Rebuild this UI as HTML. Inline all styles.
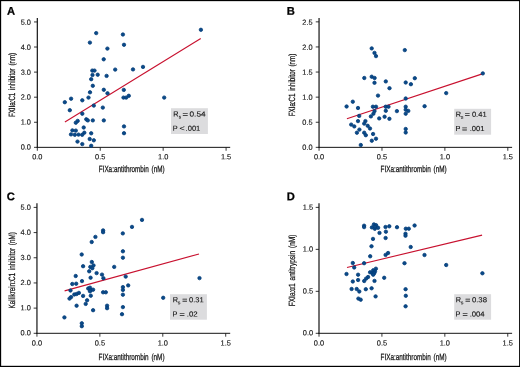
<!DOCTYPE html>
<html lang="en"><head><meta charset="utf-8"><title>Figure</title>
<style>
html,body{margin:0;padding:0;background:#fff;}
body{width:520px;height:367px;overflow:hidden;}
svg{display:block;}
text{font-family:"Liberation Sans",Arial,Helvetica,sans-serif;fill:#101010;}
.tick{font-size:7.4px;stroke:#151515;stroke-width:0.12px;}
.lab{font-size:9px;stroke:#151515;stroke-width:0.25px;word-spacing:1.5px;}
.leg{font-size:7.3px;stroke:#151515;stroke-width:0.1px;}
.sub{font-size:4.8px;}
.eq{font-size:7.8px;stroke-width:0.2px;}
.pl{font-size:11.2px;font-weight:bold;fill:#000;stroke:#000;stroke-width:0.25px;}
.ax{stroke:#141414;stroke-width:1.0;fill:none;}
.ay{stroke:#141414;stroke-width:1.2;fill:none;}
.tk{stroke:#141414;stroke-width:0.85;fill:none;}
.fit{stroke:#c8112f;stroke-width:1.12;fill:none;stroke-linecap:butt;}
.pt{fill:#0a4a89;stroke:#043c78;stroke-width:0.8;}
.box{fill:#dcdcde;}
</style></head><body>
<svg width="520" height="367" viewBox="0 0 520 367">
<rect x="0" y="0" width="520" height="367" fill="#fff"/>
<rect x="0" y="0" width="520" height="1.15" fill="#000"/>
<rect x="0" y="0" width="1.15" height="367" fill="#000"/>
<rect x="0" y="365.8" width="520" height="1.2" fill="#000"/>
<rect x="519.1" y="0" width="0.9" height="367" fill="#000"/>
<g>
<text class="pl" x="7.00" y="14.70" transform="rotate(0.03 7.00 14.70)">A</text>
<path class="ay" d="M37.32 18.00 V147.85"/>
<path class="ax" d="M36.72 147.35 H230.20"/>
<text class="tick" text-anchor="end" x="30.92" y="149.55" transform="rotate(0.03 30.92 149.55)">0.0</text>
<text class="tick" text-anchor="end" x="30.92" y="124.59" transform="rotate(0.03 30.92 124.59)">1.0</text>
<text class="tick" text-anchor="end" x="30.92" y="99.63" transform="rotate(0.03 30.92 99.63)">2.0</text>
<text class="tick" text-anchor="end" x="30.92" y="74.67" transform="rotate(0.03 30.92 74.67)">3.0</text>
<text class="tick" text-anchor="end" x="30.92" y="49.71" transform="rotate(0.03 30.92 49.71)">4.0</text>
<text class="tick" text-anchor="end" x="30.92" y="24.75" transform="rotate(0.03 30.92 24.75)">5.0</text>
<text class="tick" text-anchor="middle" x="37.32" y="159.15" transform="rotate(0.03 37.32 159.15)">0.0</text>
<text class="tick" text-anchor="middle" x="100.24" y="159.15" transform="rotate(0.03 100.24 159.15)">0.5</text>
<text class="tick" text-anchor="middle" x="163.16" y="159.15" transform="rotate(0.03 163.16 159.15)">1.0</text>
<text class="tick" text-anchor="middle" x="226.08" y="159.15" transform="rotate(0.03 226.08 159.15)">1.5</text>
<path class="tk" d="M34.02 147.35 H37.32M34.02 122.27 H37.32M34.02 97.19 H37.32M34.02 72.11 H37.32M34.02 47.03 H37.32M34.02 21.95 H37.32M37.32 147.35 V150.75M100.24 147.35 V150.75M163.16 147.35 V150.75M226.08 147.35 V150.75"/>
<text class="lab" x="98.75" y="171.90" transform="rotate(0.03 98.75 171.90)" textLength="65.9" lengthAdjust="spacingAndGlyphs">FIXa:antithrombin (nM)</text>
<text class="lab" transform="translate(15.10 117.10) rotate(-89.97)" textLength="64.2" lengthAdjust="spacingAndGlyphs">FXIIa:C1 inhibitor (nm)</text>
<path class="fit" d="M64.90 121.90 L200.75 38.55"/>
<circle class="pt" cx="96.2" cy="33.1" r="1.70"/>
<circle class="pt" cx="122.9" cy="34.5" r="1.70"/>
<circle class="pt" cx="89.9" cy="42.6" r="1.70"/>
<circle class="pt" cx="124.0" cy="44.8" r="1.70"/>
<circle class="pt" cx="107.4" cy="48.6" r="1.70"/>
<circle class="pt" cx="103.7" cy="59.3" r="1.70"/>
<circle class="pt" cx="115.2" cy="69.6" r="1.70"/>
<circle class="pt" cx="92.3" cy="70.6" r="1.70"/>
<circle class="pt" cx="94.5" cy="70.6" r="1.70"/>
<circle class="pt" cx="92.5" cy="75.0" r="1.70"/>
<circle class="pt" cx="97.7" cy="74.7" r="1.70"/>
<circle class="pt" cx="106.6" cy="75.9" r="1.70"/>
<circle class="pt" cx="91.2" cy="79.2" r="1.70"/>
<circle class="pt" cx="92.8" cy="85.8" r="1.70"/>
<circle class="pt" cx="103.8" cy="89.8" r="1.70"/>
<circle class="pt" cx="123.8" cy="89.9" r="1.70"/>
<circle class="pt" cx="90.0" cy="92.3" r="1.70"/>
<circle class="pt" cx="107.5" cy="93.3" r="1.70"/>
<circle class="pt" cx="88.5" cy="97.6" r="1.70"/>
<circle class="pt" cx="71.1" cy="98.7" r="1.70"/>
<circle class="pt" cx="82.3" cy="100.3" r="1.70"/>
<circle class="pt" cx="64.8" cy="102.2" r="1.70"/>
<circle class="pt" cx="93.8" cy="105.6" r="1.70"/>
<circle class="pt" cx="102.8" cy="107.6" r="1.70"/>
<circle class="pt" cx="69.8" cy="110.2" r="1.70"/>
<circle class="pt" cx="82.3" cy="113.7" r="1.70"/>
<circle class="pt" cx="123.5" cy="97.6" r="1.70"/>
<circle class="pt" cx="126.2" cy="97.6" r="1.70"/>
<circle class="pt" cx="128.8" cy="95.8" r="1.70"/>
<circle class="pt" cx="133.0" cy="69.4" r="1.70"/>
<circle class="pt" cx="143.0" cy="66.9" r="1.70"/>
<circle class="pt" cx="200.9" cy="29.8" r="1.70"/>
<circle class="pt" cx="164.2" cy="97.6" r="1.70"/>
<circle class="pt" cx="86.3" cy="119.3" r="1.70"/>
<circle class="pt" cx="87.8" cy="120.4" r="1.70"/>
<circle class="pt" cx="92.8" cy="120.4" r="1.70"/>
<circle class="pt" cx="103.8" cy="120.4" r="1.70"/>
<circle class="pt" cx="77.7" cy="120.9" r="1.70"/>
<circle class="pt" cx="75.8" cy="122.7" r="1.70"/>
<circle class="pt" cx="124.0" cy="126.4" r="1.70"/>
<circle class="pt" cx="83.7" cy="127.5" r="1.70"/>
<circle class="pt" cx="124.0" cy="133.2" r="1.70"/>
<circle class="pt" cx="72.4" cy="130.4" r="1.70"/>
<circle class="pt" cx="75.8" cy="130.6" r="1.70"/>
<circle class="pt" cx="84.3" cy="132.7" r="1.70"/>
<circle class="pt" cx="91.2" cy="133.3" r="1.70"/>
<circle class="pt" cx="71.0" cy="134.4" r="1.70"/>
<circle class="pt" cx="74.8" cy="134.8" r="1.70"/>
<circle class="pt" cx="78.5" cy="134.6" r="1.70"/>
<circle class="pt" cx="82.2" cy="134.8" r="1.70"/>
<circle class="pt" cx="89.7" cy="139.0" r="1.70"/>
<circle class="pt" cx="93.8" cy="140.3" r="1.70"/>
<circle class="pt" cx="77.5" cy="141.6" r="1.70"/>
<circle class="pt" cx="82.3" cy="144.1" r="1.70"/>
<circle class="pt" cx="91.2" cy="145.8" r="1.70"/>
<rect class="box" x="171.00" y="108.20" width="36.90" height="25.80"/>
<text class="leg" y="116.50" transform="rotate(0.03 173.15 116.50)"><tspan x="173.15">R</tspan><tspan class="sub" x="178.75" dy="2.10">s</tspan> <tspan class="eq" x="182.60" dy="-1.60" textLength="5.50" lengthAdjust="spacingAndGlyphs">=</tspan> <tspan x="189.55" dy="-0.50" textLength="16.00" lengthAdjust="spacingAndGlyphs">0.54</tspan></text>
<text class="leg" y="130.80" transform="rotate(0.03 172.75 130.80)"><tspan x="172.75">P</tspan> <tspan x="179.40" textLength="5.20" lengthAdjust="spacingAndGlyphs">&lt;</tspan> <tspan x="185.60" textLength="14.70" lengthAdjust="spacingAndGlyphs">.001</tspan></text>
</g>
<g>
<text class="pl" x="286.70" y="14.70" transform="rotate(0.03 286.70 14.70)">B</text>
<path class="ay" d="M319.05 18.00 V147.85"/>
<path class="ax" d="M318.45 147.35 H512.10"/>
<text class="tick" text-anchor="end" x="312.65" y="149.75" transform="rotate(0.03 312.65 149.75)">0.0</text>
<text class="tick" text-anchor="end" x="312.65" y="124.73" transform="rotate(0.03 312.65 124.73)">0.5</text>
<text class="tick" text-anchor="end" x="312.65" y="99.71" transform="rotate(0.03 312.65 99.71)">1.0</text>
<text class="tick" text-anchor="end" x="312.65" y="74.69" transform="rotate(0.03 312.65 74.69)">1.5</text>
<text class="tick" text-anchor="end" x="312.65" y="49.67" transform="rotate(0.03 312.65 49.67)">2.0</text>
<text class="tick" text-anchor="end" x="312.65" y="24.65" transform="rotate(0.03 312.65 24.65)">2.5</text>
<text class="tick" text-anchor="middle" x="319.05" y="159.15" transform="rotate(0.03 319.05 159.15)">0.0</text>
<text class="tick" text-anchor="middle" x="381.97" y="159.15" transform="rotate(0.03 381.97 159.15)">0.5</text>
<text class="tick" text-anchor="middle" x="444.89" y="159.15" transform="rotate(0.03 444.89 159.15)">1.0</text>
<text class="tick" text-anchor="middle" x="507.81" y="159.15" transform="rotate(0.03 507.81 159.15)">1.5</text>
<path class="tk" d="M315.75 147.35 H319.05M315.75 122.25 H319.05M315.75 97.15 H319.05M315.75 72.05 H319.05M315.75 46.95 H319.05M315.75 21.85 H319.05M319.05 147.35 V150.75M381.97 147.35 V150.75M444.89 147.35 V150.75M507.81 147.35 V150.75"/>
<text class="lab" x="380.50" y="171.90" transform="rotate(0.03 380.50 171.90)" textLength="66.2" lengthAdjust="spacingAndGlyphs">FIXa:antithrombin (nM)</text>
<text class="lab" transform="translate(294.90 116.20) rotate(-89.97)" textLength="62.4" lengthAdjust="spacingAndGlyphs">FXIa:C1 inhibitor (nm)</text>
<path class="fit" d="M346.90 118.80 L482.30 73.90"/>
<circle class="pt" cx="371.7" cy="48.4" r="1.70"/>
<circle class="pt" cx="374.5" cy="52.9" r="1.70"/>
<circle class="pt" cx="376.0" cy="56.1" r="1.70"/>
<circle class="pt" cx="404.8" cy="50.1" r="1.70"/>
<circle class="pt" cx="364.3" cy="78.0" r="1.70"/>
<circle class="pt" cx="371.7" cy="76.7" r="1.70"/>
<circle class="pt" cx="374.6" cy="78.0" r="1.70"/>
<circle class="pt" cx="374.5" cy="82.8" r="1.70"/>
<circle class="pt" cx="385.8" cy="81.4" r="1.70"/>
<circle class="pt" cx="405.7" cy="82.5" r="1.70"/>
<circle class="pt" cx="410.9" cy="84.2" r="1.70"/>
<circle class="pt" cx="414.8" cy="78.2" r="1.70"/>
<circle class="pt" cx="389.5" cy="88.2" r="1.70"/>
<circle class="pt" cx="378.0" cy="95.6" r="1.70"/>
<circle class="pt" cx="405.7" cy="98.5" r="1.70"/>
<circle class="pt" cx="352.8" cy="101.7" r="1.70"/>
<circle class="pt" cx="346.6" cy="106.5" r="1.70"/>
<circle class="pt" cx="358.0" cy="108.0" r="1.70"/>
<circle class="pt" cx="372.9" cy="106.7" r="1.70"/>
<circle class="pt" cx="376.0" cy="106.7" r="1.70"/>
<circle class="pt" cx="385.7" cy="106.7" r="1.70"/>
<circle class="pt" cx="388.5" cy="106.7" r="1.70"/>
<circle class="pt" cx="405.7" cy="106.7" r="1.70"/>
<circle class="pt" cx="385.8" cy="110.8" r="1.70"/>
<circle class="pt" cx="396.9" cy="111.1" r="1.70"/>
<circle class="pt" cx="374.5" cy="111.1" r="1.70"/>
<circle class="pt" cx="373.4" cy="113.7" r="1.70"/>
<circle class="pt" cx="370.9" cy="116.4" r="1.70"/>
<circle class="pt" cx="359.2" cy="115.9" r="1.70"/>
<circle class="pt" cx="405.7" cy="109.7" r="1.70"/>
<circle class="pt" cx="408.3" cy="110.9" r="1.70"/>
<circle class="pt" cx="405.7" cy="113.7" r="1.70"/>
<circle class="pt" cx="379.2" cy="118.4" r="1.70"/>
<circle class="pt" cx="384.6" cy="116.7" r="1.70"/>
<circle class="pt" cx="389.4" cy="118.8" r="1.70"/>
<circle class="pt" cx="358.0" cy="121.1" r="1.70"/>
<circle class="pt" cx="365.4" cy="121.1" r="1.70"/>
<circle class="pt" cx="364.2" cy="123.6" r="1.70"/>
<circle class="pt" cx="351.2" cy="124.6" r="1.70"/>
<circle class="pt" cx="354.3" cy="126.4" r="1.70"/>
<circle class="pt" cx="367.7" cy="125.8" r="1.70"/>
<circle class="pt" cx="370.0" cy="128.5" r="1.70"/>
<circle class="pt" cx="359.4" cy="129.6" r="1.70"/>
<circle class="pt" cx="405.7" cy="129.0" r="1.70"/>
<circle class="pt" cx="405.7" cy="132.5" r="1.70"/>
<circle class="pt" cx="356.9" cy="132.7" r="1.70"/>
<circle class="pt" cx="364.2" cy="132.7" r="1.70"/>
<circle class="pt" cx="365.8" cy="135.2" r="1.70"/>
<circle class="pt" cx="373.1" cy="134.0" r="1.70"/>
<circle class="pt" cx="376.0" cy="138.7" r="1.70"/>
<circle class="pt" cx="371.8" cy="140.7" r="1.70"/>
<circle class="pt" cx="360.8" cy="145.0" r="1.70"/>
<circle class="pt" cx="446.2" cy="93.1" r="1.70"/>
<circle class="pt" cx="424.6" cy="106.2" r="1.70"/>
<circle class="pt" cx="482.8" cy="73.4" r="1.70"/>
<rect class="box" x="454.20" y="108.80" width="36.90" height="25.90"/>
<text class="leg" y="116.75" transform="rotate(0.03 455.75 116.75)"><tspan x="455.75">R</tspan><tspan class="sub" x="461.10" dy="2.10">s</tspan> <tspan class="eq" x="464.70" dy="-1.60" textLength="5.10" lengthAdjust="spacingAndGlyphs">=</tspan> <tspan x="471.90" dy="-0.50" textLength="14.70" lengthAdjust="spacingAndGlyphs">0.41</tspan></text>
<text class="leg" y="131.05" transform="rotate(0.03 455.50 131.05)"><tspan x="455.50">P</tspan> <tspan class="eq" x="461.95" dy="0.50" textLength="5.20" lengthAdjust="spacingAndGlyphs">=</tspan> <tspan x="469.65" dy="-0.50" textLength="14.70" lengthAdjust="spacingAndGlyphs">.001</tspan></text>
</g>
<g>
<text class="pl" x="6.70" y="200.20" transform="rotate(0.03 6.70 200.20)">C</text>
<path class="ay" d="M36.95 203.20 V333.80"/>
<path class="ax" d="M36.35 333.30 H230.20"/>
<text class="tick" text-anchor="end" x="30.85" y="335.35" transform="rotate(0.03 30.85 335.35)">0.0</text>
<text class="tick" text-anchor="end" x="30.85" y="310.23" transform="rotate(0.03 30.85 310.23)">1.0</text>
<text class="tick" text-anchor="end" x="30.85" y="285.11" transform="rotate(0.03 30.85 285.11)">2.0</text>
<text class="tick" text-anchor="end" x="30.85" y="259.99" transform="rotate(0.03 30.85 259.99)">3.0</text>
<text class="tick" text-anchor="end" x="30.85" y="234.87" transform="rotate(0.03 30.85 234.87)">4.0</text>
<text class="tick" text-anchor="end" x="30.85" y="209.75" transform="rotate(0.03 30.85 209.75)">5.0</text>
<text class="tick" text-anchor="middle" x="36.95" y="345.55" transform="rotate(0.03 36.95 345.55)">0.0</text>
<text class="tick" text-anchor="middle" x="99.87" y="345.55" transform="rotate(0.03 99.87 345.55)">0.5</text>
<text class="tick" text-anchor="middle" x="162.79" y="345.55" transform="rotate(0.03 162.79 345.55)">1.0</text>
<text class="tick" text-anchor="middle" x="225.71" y="345.55" transform="rotate(0.03 225.71 345.55)">1.5</text>
<path class="tk" d="M33.65 333.30 H36.95M33.65 308.12 H36.95M33.65 282.94 H36.95M33.65 257.76 H36.95M33.65 232.58 H36.95M33.65 207.40 H36.95M36.95 333.30 V336.70M99.87 333.30 V336.70M162.79 333.30 V336.70M225.71 333.30 V336.70"/>
<text class="lab" x="98.50" y="360.30" transform="rotate(0.03 98.50 360.30)" textLength="66.0" lengthAdjust="spacingAndGlyphs">FIXa:antithrombin (nM)</text>
<text class="lab" transform="translate(15.10 308.40) rotate(-89.97)" textLength="76.2" lengthAdjust="spacingAndGlyphs">Kallikrein:C1 inhibitor (nM)</text>
<path class="fit" d="M64.60 290.85 L199.00 253.95"/>
<circle class="pt" cx="142.0" cy="219.9" r="1.70"/>
<circle class="pt" cx="132.0" cy="226.9" r="1.70"/>
<circle class="pt" cx="103.1" cy="230.4" r="1.70"/>
<circle class="pt" cx="103.1" cy="232.2" r="1.70"/>
<circle class="pt" cx="122.8" cy="233.4" r="1.70"/>
<circle class="pt" cx="95.4" cy="236.9" r="1.70"/>
<circle class="pt" cx="91.7" cy="242.0" r="1.70"/>
<circle class="pt" cx="122.9" cy="251.3" r="1.70"/>
<circle class="pt" cx="81.7" cy="254.5" r="1.70"/>
<circle class="pt" cx="122.9" cy="257.7" r="1.70"/>
<circle class="pt" cx="91.8" cy="262.0" r="1.70"/>
<circle class="pt" cx="83.1" cy="266.2" r="1.70"/>
<circle class="pt" cx="93.5" cy="265.4" r="1.70"/>
<circle class="pt" cx="90.3" cy="266.9" r="1.70"/>
<circle class="pt" cx="92.3" cy="268.2" r="1.70"/>
<circle class="pt" cx="114.2" cy="266.9" r="1.70"/>
<circle class="pt" cx="89.2" cy="271.3" r="1.70"/>
<circle class="pt" cx="96.6" cy="273.1" r="1.70"/>
<circle class="pt" cx="102.0" cy="274.6" r="1.70"/>
<circle class="pt" cx="75.7" cy="276.0" r="1.70"/>
<circle class="pt" cx="90.6" cy="277.7" r="1.70"/>
<circle class="pt" cx="103.4" cy="278.2" r="1.70"/>
<circle class="pt" cx="125.7" cy="276.6" r="1.70"/>
<circle class="pt" cx="82.0" cy="281.1" r="1.70"/>
<circle class="pt" cx="72.3" cy="284.0" r="1.70"/>
<circle class="pt" cx="76.2" cy="283.7" r="1.70"/>
<circle class="pt" cx="128.2" cy="285.4" r="1.70"/>
<circle class="pt" cx="122.9" cy="287.1" r="1.70"/>
<circle class="pt" cx="122.9" cy="289.9" r="1.70"/>
<circle class="pt" cx="88.2" cy="288.5" r="1.70"/>
<circle class="pt" cx="90.0" cy="287.7" r="1.70"/>
<circle class="pt" cx="90.8" cy="290.0" r="1.70"/>
<circle class="pt" cx="93.1" cy="289.7" r="1.70"/>
<circle class="pt" cx="90.0" cy="291.3" r="1.70"/>
<circle class="pt" cx="70.5" cy="290.5" r="1.70"/>
<circle class="pt" cx="103.1" cy="292.3" r="1.70"/>
<circle class="pt" cx="105.8" cy="292.3" r="1.70"/>
<circle class="pt" cx="78.9" cy="292.9" r="1.70"/>
<circle class="pt" cx="76.6" cy="294.0" r="1.70"/>
<circle class="pt" cx="74.3" cy="294.5" r="1.70"/>
<circle class="pt" cx="122.9" cy="294.7" r="1.70"/>
<circle class="pt" cx="83.1" cy="295.9" r="1.70"/>
<circle class="pt" cx="90.8" cy="295.7" r="1.70"/>
<circle class="pt" cx="71.1" cy="297.1" r="1.70"/>
<circle class="pt" cx="69.5" cy="298.6" r="1.70"/>
<circle class="pt" cx="87.1" cy="300.3" r="1.70"/>
<circle class="pt" cx="85.7" cy="303.9" r="1.70"/>
<circle class="pt" cx="76.6" cy="305.7" r="1.70"/>
<circle class="pt" cx="107.1" cy="305.7" r="1.70"/>
<circle class="pt" cx="107.1" cy="308.2" r="1.70"/>
<circle class="pt" cx="122.9" cy="307.1" r="1.70"/>
<circle class="pt" cx="93.1" cy="310.2" r="1.70"/>
<circle class="pt" cx="122.0" cy="314.2" r="1.70"/>
<circle class="pt" cx="64.4" cy="317.4" r="1.70"/>
<circle class="pt" cx="81.8" cy="323.3" r="1.70"/>
<circle class="pt" cx="81.8" cy="326.2" r="1.70"/>
<circle class="pt" cx="199.5" cy="278.1" r="1.70"/>
<circle class="pt" cx="163.2" cy="297.8" r="1.70"/>
<rect class="box" x="170.00" y="294.20" width="36.90" height="25.50"/>
<text class="leg" y="302.20" transform="rotate(0.03 172.75 302.20)"><tspan x="172.75">R</tspan><tspan class="sub" x="178.10" dy="2.10">s</tspan> <tspan class="eq" x="182.25" dy="-1.60" textLength="5.10" lengthAdjust="spacingAndGlyphs">=</tspan> <tspan x="189.00" dy="-0.50" textLength="14.70" lengthAdjust="spacingAndGlyphs">0.31</tspan></text>
<text class="leg" y="316.50" transform="rotate(0.03 172.60 316.50)"><tspan x="172.60">P</tspan> <tspan class="eq" x="179.50" dy="0.50" textLength="5.20" lengthAdjust="spacingAndGlyphs">=</tspan> <tspan x="186.80" dy="-0.50" textLength="10.90" lengthAdjust="spacingAndGlyphs">.02</tspan></text>
</g>
<g>
<text class="pl" x="286.70" y="200.20" transform="rotate(0.03 286.70 200.20)">D</text>
<path class="ay" d="M319.00 203.20 V333.80"/>
<path class="ax" d="M318.40 333.30 H512.10"/>
<text class="tick" text-anchor="end" x="313.15" y="335.35" transform="rotate(0.03 313.15 335.35)">0.0</text>
<text class="tick" text-anchor="end" x="313.15" y="293.48" transform="rotate(0.03 313.15 293.48)">0.5</text>
<text class="tick" text-anchor="end" x="313.15" y="251.61" transform="rotate(0.03 313.15 251.61)">1.0</text>
<text class="tick" text-anchor="end" x="313.15" y="209.74" transform="rotate(0.03 313.15 209.74)">1.5</text>
<text class="tick" text-anchor="middle" x="319.00" y="345.55" transform="rotate(0.03 319.00 345.55)">0.0</text>
<text class="tick" text-anchor="middle" x="381.92" y="345.55" transform="rotate(0.03 381.92 345.55)">0.5</text>
<text class="tick" text-anchor="middle" x="444.84" y="345.55" transform="rotate(0.03 444.84 345.55)">1.0</text>
<text class="tick" text-anchor="middle" x="507.76" y="345.55" transform="rotate(0.03 507.76 345.55)">1.5</text>
<path class="tk" d="M315.70 333.30 H319.00M315.70 291.33 H319.00M315.70 249.36 H319.00M315.70 207.39 H319.00M319.00 333.30 V336.70M381.92 333.30 V336.70M444.84 333.30 V336.70M507.76 333.30 V336.70"/>
<text class="lab" x="380.50" y="360.30" transform="rotate(0.03 380.50 360.30)" textLength="66.2" lengthAdjust="spacingAndGlyphs">FIXa:antithrombin (nM)</text>
<text class="lab" transform="translate(295.10 306.20) rotate(-89.97)" textLength="71.5" lengthAdjust="spacingAndGlyphs">FXIa:α1 antitrypsin (nM)</text>
<path class="fit" d="M347.00 267.50 L482.10 235.10"/>
<circle class="pt" cx="364.1" cy="225.7" r="1.70"/>
<circle class="pt" cx="364.1" cy="227.1" r="1.70"/>
<circle class="pt" cx="373.9" cy="224.4" r="1.70"/>
<circle class="pt" cx="376.1" cy="225.2" r="1.70"/>
<circle class="pt" cx="371.9" cy="227.4" r="1.70"/>
<circle class="pt" cx="374.8" cy="228.8" r="1.70"/>
<circle class="pt" cx="378.1" cy="227.8" r="1.70"/>
<circle class="pt" cx="375.0" cy="226.7" r="1.70"/>
<circle class="pt" cx="385.5" cy="227.0" r="1.70"/>
<circle class="pt" cx="389.3" cy="226.3" r="1.70"/>
<circle class="pt" cx="397.0" cy="227.2" r="1.70"/>
<circle class="pt" cx="414.6" cy="225.5" r="1.70"/>
<circle class="pt" cx="405.8" cy="228.7" r="1.70"/>
<circle class="pt" cx="408.8" cy="228.7" r="1.70"/>
<circle class="pt" cx="385.9" cy="231.7" r="1.70"/>
<circle class="pt" cx="379.5" cy="232.9" r="1.70"/>
<circle class="pt" cx="405.5" cy="233.7" r="1.70"/>
<circle class="pt" cx="405.5" cy="235.7" r="1.70"/>
<circle class="pt" cx="385.6" cy="238.0" r="1.70"/>
<circle class="pt" cx="373.0" cy="238.9" r="1.70"/>
<circle class="pt" cx="371.5" cy="246.3" r="1.70"/>
<circle class="pt" cx="410.7" cy="247.0" r="1.70"/>
<circle class="pt" cx="388.1" cy="253.0" r="1.70"/>
<circle class="pt" cx="385.6" cy="254.9" r="1.70"/>
<circle class="pt" cx="370.2" cy="256.3" r="1.70"/>
<circle class="pt" cx="352.8" cy="263.0" r="1.70"/>
<circle class="pt" cx="364.1" cy="263.2" r="1.70"/>
<circle class="pt" cx="404.5" cy="263.2" r="1.70"/>
<circle class="pt" cx="354.2" cy="267.5" r="1.70"/>
<circle class="pt" cx="375.9" cy="268.7" r="1.70"/>
<circle class="pt" cx="373.2" cy="270.3" r="1.70"/>
<circle class="pt" cx="375.0" cy="271.4" r="1.70"/>
<circle class="pt" cx="370.1" cy="272.3" r="1.70"/>
<circle class="pt" cx="372.4" cy="273.2" r="1.70"/>
<circle class="pt" cx="374.2" cy="273.2" r="1.70"/>
<circle class="pt" cx="373.2" cy="274.7" r="1.70"/>
<circle class="pt" cx="346.5" cy="274.0" r="1.70"/>
<circle class="pt" cx="358.1" cy="274.7" r="1.70"/>
<circle class="pt" cx="368.1" cy="277.0" r="1.70"/>
<circle class="pt" cx="384.2" cy="277.8" r="1.70"/>
<circle class="pt" cx="366.1" cy="278.6" r="1.70"/>
<circle class="pt" cx="358.1" cy="280.0" r="1.70"/>
<circle class="pt" cx="364.2" cy="281.0" r="1.70"/>
<circle class="pt" cx="374.5" cy="280.9" r="1.70"/>
<circle class="pt" cx="352.8" cy="281.5" r="1.70"/>
<circle class="pt" cx="351.6" cy="289.0" r="1.70"/>
<circle class="pt" cx="356.7" cy="289.0" r="1.70"/>
<circle class="pt" cx="365.8" cy="289.2" r="1.70"/>
<circle class="pt" cx="371.6" cy="288.3" r="1.70"/>
<circle class="pt" cx="405.6" cy="289.2" r="1.70"/>
<circle class="pt" cx="359.3" cy="291.5" r="1.70"/>
<circle class="pt" cx="405.8" cy="295.8" r="1.70"/>
<circle class="pt" cx="375.6" cy="296.4" r="1.70"/>
<circle class="pt" cx="358.4" cy="298.6" r="1.70"/>
<circle class="pt" cx="360.7" cy="299.7" r="1.70"/>
<circle class="pt" cx="405.6" cy="306.3" r="1.70"/>
<circle class="pt" cx="424.5" cy="255.0" r="1.70"/>
<circle class="pt" cx="446.2" cy="265.0" r="1.70"/>
<circle class="pt" cx="482.4" cy="273.3" r="1.70"/>
<rect class="box" x="454.20" y="294.20" width="36.90" height="25.50"/>
<text class="leg" y="302.20" transform="rotate(0.03 455.75 302.20)"><tspan x="455.75">R</tspan><tspan class="sub" x="461.10" dy="2.10">s</tspan> <tspan class="eq" x="465.15" dy="-1.60" textLength="5.10" lengthAdjust="spacingAndGlyphs">=</tspan> <tspan x="471.90" dy="-0.50" textLength="15.10" lengthAdjust="spacingAndGlyphs">0.38</tspan></text>
<text class="leg" y="316.50" transform="rotate(0.03 455.50 316.50)"><tspan x="455.50">P</tspan> <tspan class="eq" x="462.40" dy="0.50" textLength="5.20" lengthAdjust="spacingAndGlyphs">=</tspan> <tspan x="469.65" dy="-0.50" textLength="15.00" lengthAdjust="spacingAndGlyphs">.004</tspan></text>
</g>
</svg>
</body></html>
